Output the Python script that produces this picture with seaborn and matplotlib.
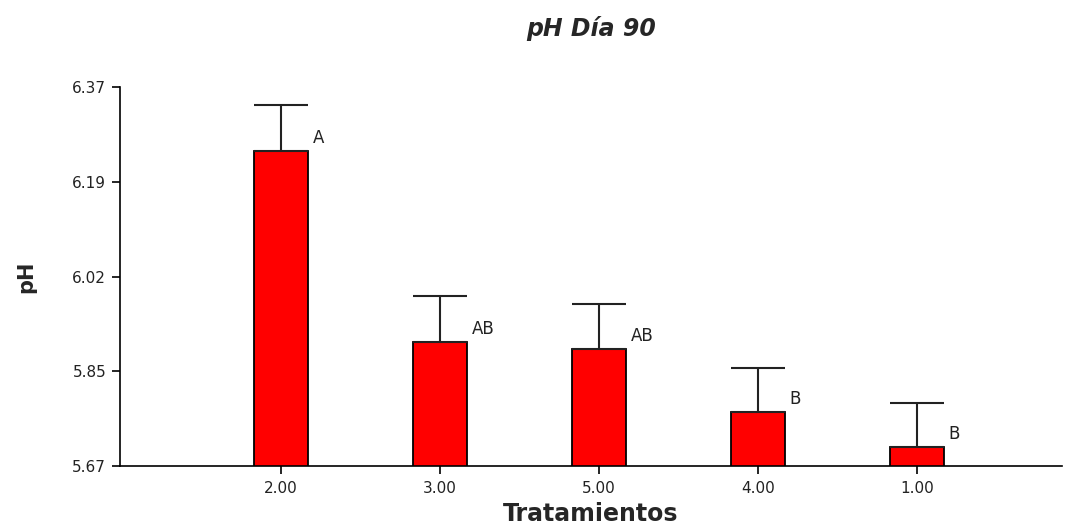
import matplotlib
matplotlib.use("Agg")
import matplotlib.pyplot as plt
import seaborn as sns
import numpy as np
import pandas as pd

# Data
tratamientos = ["2.00", "3.00", "5.00", "4.00", "1.00"]
ph_mean = [6.252, 5.899, 5.886, 5.769, 5.704]
ph_err = [0.085, 0.085, 0.083, 0.082, 0.082]
letras = ["A", "AB", "AB", "B", "B"]
yticks = [5.67, 5.845, 6.02, 6.195, 6.37]
ytick_labels = ["5.67", "5.85", "6.02", "6.19", "6.37"]

sns.set_style("white")
plt.rcParams['font.family'] = ['DejaVu Sans']

df = pd.DataFrame({"Tratamientos": tratamientos, "pH": ph_mean})

fig = plt.figure(figsize=(10.67, 5.24), dpi=100)
ax = fig.add_axes([0.1125, 0.111, 0.8825, 0.7224])

sns.barplot(data=df, x="Tratamientos", y="pH", order=tratamientos, color="#ff0000",
            saturation=1, edgecolor="black", linewidth=1.3, width=0.34, ax=ax,
            errorbar=None)

xpos = np.arange(len(tratamientos))
ax.errorbar(xpos, ph_mean, yerr=[np.zeros(len(ph_err)), ph_err], fmt="none",
            ecolor="#222222", elinewidth=1.5, capsize=19.5, capthick=1.5, zorder=3)

for x, m, lab in zip(xpos, ph_mean, letras):
    ax.text(x + 0.2, m + 0.024, lab, ha="left", va="center", fontsize=12, color="#222222")

ax.set_ylim(5.67, 6.37)
ax.set_xlim(-1.01, 4.91)
ax.set_yticks(yticks)
ax.set_yticklabels(ytick_labels)
ax.tick_params(axis="both", bottom=True, left=True, direction="out", length=6,
               width=1.2, color="black", labelsize=11, labelcolor="#222222", pad=4)
ax.tick_params(axis="x", pad=5)
for s in ["top", "right"]:
    ax.spines[s].set_visible(False)
for s in ["left", "bottom"]:
    ax.spines[s].set_color("black")
    ax.spines[s].set_linewidth(1.2)

ax.set_ylabel("pH", fontsize=15, fontweight="bold", labelpad=26)
ax.set_xlabel("Tratamientos", fontsize=17, fontweight="bold", labelpad=4)
ax.set_title("pH Día 90", fontsize=17, fontweight="bold", fontstyle="italic", pad=37)

fig.savefig("out.png", dpi=100)
